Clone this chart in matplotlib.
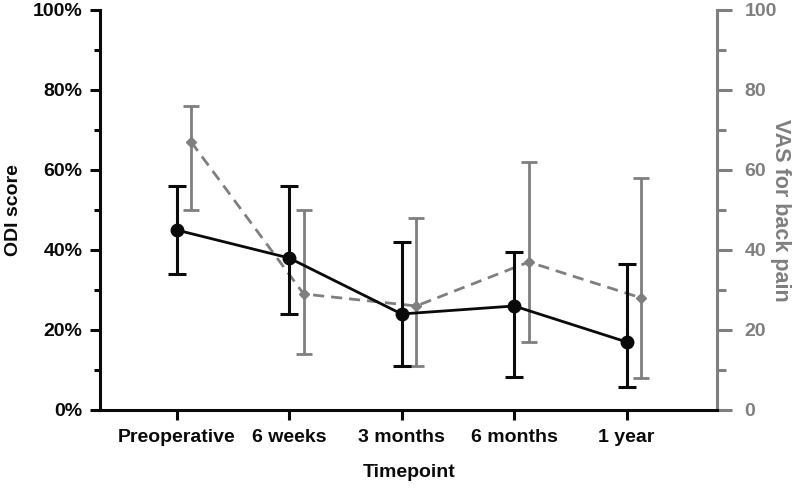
import numpy as np
import matplotlib
matplotlib.use("Agg")
import matplotlib.pyplot as plt
from matplotlib.ticker import MultipleLocator, FuncFormatter

plt.rcParams['font.family'] = ['Liberation Sans', 'DejaVu Sans']
plt.rcParams['font.weight'] = 'bold'

categories = ["Preoperative", "6 weeks", "3 months", "6 months", "1 year"]
odi_mean = [45, 38, 24, 26, 17]
odi_low = [34, 24, 11, 8.2, 5.8]
odi_high = [56, 56, 42, 39.5, 36.5]
vas_mean = [67, 29, 26, 37, 28]
vas_low = [50, 14, 11, 17, 8]
vas_high = [76, 50, 48, 62, 58]

BLACK = "#0a0a0a"
GRAY = "#7f7f7f"

fig = plt.figure(figsize=(8, 4.92), dpi=100)
ax = fig.add_axes([0.125, 0.1667, 0.7716, 0.813])
ax2 = ax.twinx()

x = np.arange(len(categories))
offset = 0.13

odi_mean_a = np.array(odi_mean)
vas_mean_a = np.array(vas_mean)
odi_err = [odi_mean_a - np.array(odi_low), np.array(odi_high) - odi_mean_a]
vas_err = [vas_mean_a - np.array(vas_low), np.array(vas_high) - vas_mean_a]

ax2.errorbar(x + offset, vas_mean, yerr=vas_err, color=GRAY, ecolor=GRAY,
             linestyle=(0, (4, 2.5)), linewidth=2, marker='D', markersize=5,
             elinewidth=2, capsize=6, capthick=2)
ax.errorbar(x, odi_mean, yerr=odi_err, color=BLACK, ecolor=BLACK,
            linestyle='-', linewidth=2, marker='o', markersize=9,
            elinewidth=2.2, capsize=6.5, capthick=2.2)

ax.set_zorder(ax2.get_zorder() + 1)
ax.patch.set_visible(False)

for a in (ax, ax2):
    a.set_ylim(0, 100)
    a.set_xlim(-0.68, 4.805)
    a.yaxis.set_major_locator(MultipleLocator(20))
    a.yaxis.set_minor_locator(MultipleLocator(10))
    a.spines['top'].set_visible(False)

ax.yaxis.set_major_formatter(FuncFormatter(lambda v, p: f"{int(v)}%"))
ax.set_xticks(x)
ax.set_xticklabels(categories, fontsize=14, fontweight='bold')

ax.spines['right'].set_visible(False)
ax.spines['left'].set_linewidth(2.2)
ax.spines['bottom'].set_linewidth(2.2)
ax.spines['left'].set_color(BLACK)
ax.spines['bottom'].set_color(BLACK)
ax.tick_params(axis='y', which='major', length=7, width=2.2, labelsize=14, pad=5.5, colors=BLACK)
ax.tick_params(axis='y', which='minor', length=4.5, width=2.2, colors=BLACK)
ax.tick_params(axis='x', which='major', length=7.5, width=2.2, labelsize=14, pad=6, colors=BLACK)
for lbl in ax.get_yticklabels():
    lbl.set_fontweight('bold')

ax2.spines['left'].set_visible(False)
ax2.spines['bottom'].set_visible(False)
ax2.spines['right'].set_linewidth(2.2)
ax2.spines['right'].set_color(GRAY)
ax2.tick_params(axis='y', which='major', length=11, width=2.2, labelsize=14, pad=8.5, colors=GRAY)
ax2.tick_params(axis='y', which='minor', length=6.5, width=2.2, colors=GRAY)
for lbl in ax2.get_yticklabels():
    lbl.set_fontweight('bold')

ax.set_ylabel("ODI score", fontsize=14, fontweight='bold', color=BLACK, labelpad=8)
ax2.set_ylabel("VAS for back pain", fontsize=15.5, fontweight='bold', color=GRAY,
               rotation=270, labelpad=10)
ax.set_xlabel("Timepoint", fontsize=14, fontweight='bold', color=BLACK, labelpad=13)

fig.savefig("out.png", dpi=100)
